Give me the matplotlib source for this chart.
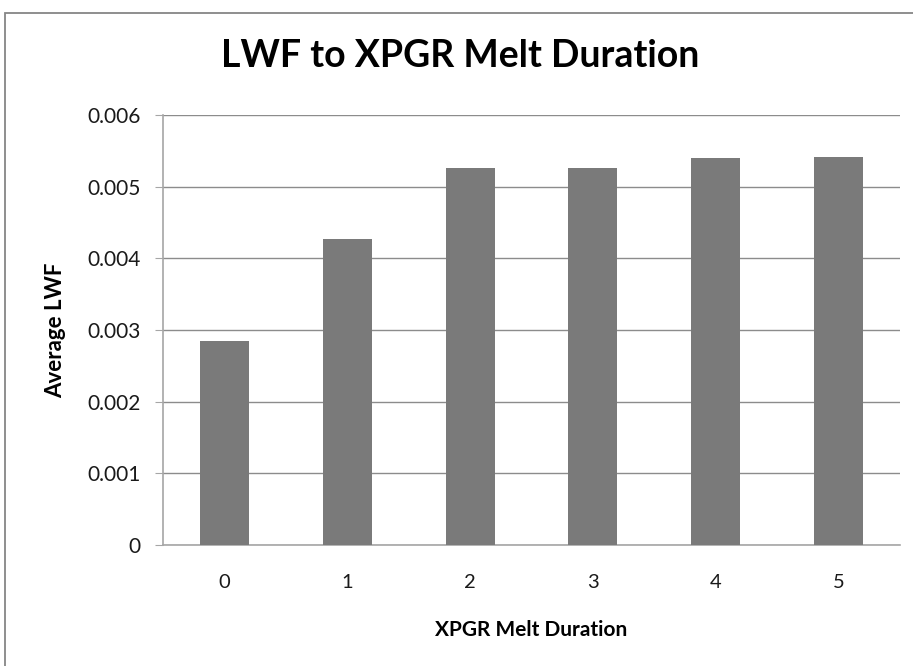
import matplotlib
matplotlib.use("Agg")
import matplotlib.pyplot as plt
from matplotlib.patches import Rectangle
from matplotlib.ticker import FuncFormatter

categories = ["0", "1", "2", "3", "4", "5"]
avg_lwf = [0.00285, 0.00427, 0.00526, 0.00526, 0.00540, 0.00541]
y_ticks = [0, 0.001, 0.002, 0.003, 0.004, 0.005, 0.006]

plt.rcParams["font.family"] = ["Lato", "DejaVu Sans"]

W, H = 913, 666
fig = plt.figure(figsize=(W / 100, H / 100), dpi=100)
fig.patch.set_facecolor("white")

# chart frame
fig.patches.append(Rectangle((5 / W, -0.05), 1.2, (H - 13) / H + 0.05,
                             transform=fig.transFigure, fill=False,
                             edgecolor="#868686", linewidth=1.3))

ax = fig.add_axes([163 / W, 1 - 545 / H, (900 - 163) / W, (545 - 115) / H])
x = range(len(categories))
ax.bar(x, avg_lwf, width=0.4, color="#7a7a7a", zorder=3)

ax.set_xlim(-0.5, len(categories) - 0.5)
ax.set_ylim(0, 0.006)
ax.set_yticks(y_ticks)
ax.yaxis.set_major_formatter(FuncFormatter(lambda v, p: "0" if v == 0 else f"{v:.3f}"))
ax.set_xticks(list(x))
ax.set_xticklabels(categories)

ax.grid(axis="y", color="#8c8c8c", linewidth=1.0, zorder=0)
for s in ["top", "right"]:
    ax.spines[s].set_visible(False)
for s in ["left", "bottom"]:
    ax.spines[s].set_color("#a6a6a6")
    ax.spines[s].set_linewidth(1.2)

ax.tick_params(axis="y", length=6, color="#a6a6a6", labelsize=15, pad=10, labelcolor="#1a1a1a")
ax.tick_params(axis="x", length=0, labelsize=14.5, pad=21, labelcolor="#1a1a1a")

ax.set_ylabel("Average LWF", fontsize=16, fontweight="bold", va="center")
ax.yaxis.set_label_coords((56 - 163) / 737, 0.5)
ax.set_xlabel("XPGR Melt Duration", fontsize=15, fontweight="bold", va="center")
ax.xaxis.set_label_coords(0.5, (545 - 630) / 430)

fig.text(460 / W, 1 - 67 / H, "LWF to XPGR Melt Duration", fontsize=27,
         fontweight="bold", ha="center", va="baseline")

fig.savefig("out.png", dpi=100, facecolor="white")
